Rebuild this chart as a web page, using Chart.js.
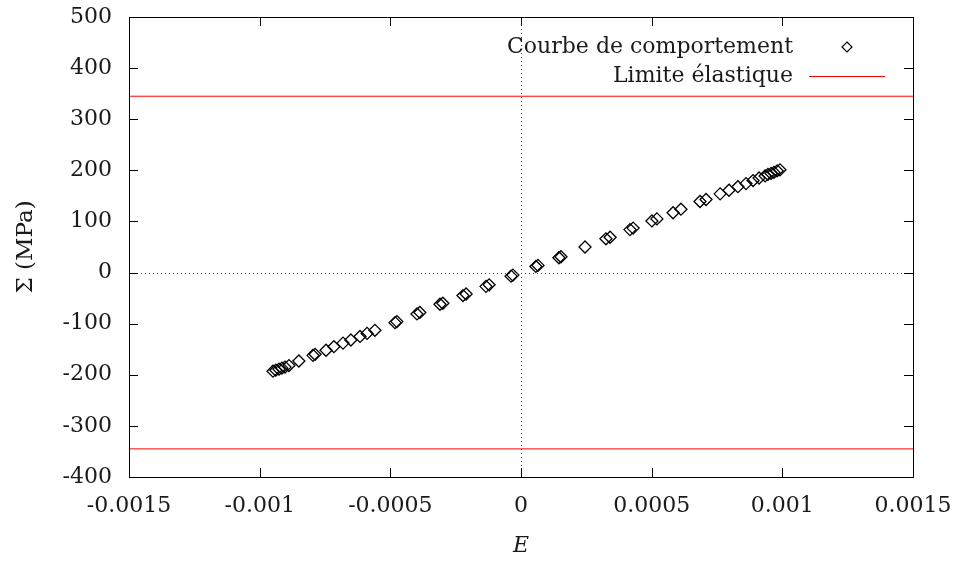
<!DOCTYPE html>
<html>
<head>
<meta charset="utf-8">
<script src="https://cdn.jsdelivr.net/npm/chart.js@4/dist/chart.umd.min.js"></script>
<style>
  html, body { margin: 0; padding: 0; background: #fff; }
  #wrap { width: 958px; height: 563px; }
</style>
</head>
<body>
<div id="wrap"><canvas id="c" width="958" height="563"></canvas></div>
<script>
// Loading curve: strain E and stress Sigma (MPa)
const strain = [
  -0.000949, -0.000938, -0.000926, -0.000915, -0.000903, -0.000888,
  -0.000850, -0.000796, -0.000788, -0.000746, -0.000716, -0.000681,
  -0.000651, -0.000616, -0.000589, -0.000559, -0.000482, -0.000475,
  -0.000398, -0.000387, -0.000310, -0.000299, -0.000222, -0.000210,
  -0.000134, -0.000122, -0.000038, -0.000031, 0.000057, 0.000065,
  0.000145, 0.000153, 0.000245, 0.000325, 0.000341, 0.000417,
  0.000429, 0.000501, 0.000520, 0.000582, 0.000612, 0.000685,
  0.000708, 0.000762, 0.000796, 0.000830, 0.000861, 0.000888,
  0.000911, 0.000934, 0.000945, 0.000957, 0.000968, 0.000980, 0.000991,
];
const stress = [
  -193, -191, -189, -187, -185, -182,
  -173, -162, -160, -152, -145, -138,
  -132, -125, -119, -113, -98, -96,
  -81, -78, -62, -60, -45, -42,
  -27, -24, -7, -5, 12, 14,
  29, 31, 50, 66, 69, 84,
  87, 101, 105, 117, 124, 139,
  143, 154, 161, 168, 174, 180,
  185, 189, 192, 194, 196, 199, 201,
];
const yieldStress = 345;
const xRange = [-0.0015, 0.0015];
const yRange = [-400, 500];
const labels = ["Courbe de comportement", "Limite élastique"];

const FONT = "'DejaVu Serif', serif";
const INK = "#1a1a1a";

// frame, inward ticks on all four sides, dotted zero axes, legend
const frame = {
  id: "frame",
  afterDatasetsDraw(chart) {
    const { ctx, chartArea: a, scales: { x, y } } = chart;
    ctx.save();
    // zero axes
    ctx.strokeStyle = "#444";
    ctx.lineWidth = 1;
    ctx.setLineDash([1, 3]);
    const x0 = Math.round(x.getPixelForValue(0)) + 0.5;
    const y0 = Math.round(y.getPixelForValue(0)) + 0.5;
    ctx.beginPath();
    ctx.moveTo(x0, a.top); ctx.lineTo(x0, a.bottom);
    ctx.moveTo(a.left, y0); ctx.lineTo(a.right, y0);
    ctx.stroke();
    ctx.setLineDash([]);
    // ticks
    ctx.strokeStyle = "#000";
    const tl = 9;
    ctx.beginPath();
    x.ticks.forEach((t) => {
      const px = Math.round(x.getPixelForValue(t.value)) + 0.5;
      ctx.moveTo(px, a.bottom); ctx.lineTo(px, a.bottom - tl);
      ctx.moveTo(px, a.top); ctx.lineTo(px, a.top + tl);
    });
    y.ticks.forEach((t) => {
      const py = Math.round(y.getPixelForValue(t.value)) + 0.5;
      ctx.moveTo(a.left, py); ctx.lineTo(a.left + tl, py);
      ctx.moveTo(a.right, py); ctx.lineTo(a.right - tl, py);
    });
    ctx.stroke();
    ctx.strokeRect(Math.round(a.left) + 0.5, Math.round(a.top) + 0.5,
                   Math.round(a.right - a.left), Math.round(a.bottom - a.top));
    // legend
    ctx.font = `22px ${FONT}`;
    ctx.fillStyle = INK;
    ctx.textAlign = "right";
    ctx.textBaseline = "middle";
    const tx = a.right - 120;
    ctx.fillText(labels[0], tx, a.top + 30);
    ctx.fillText(labels[1], tx, a.top + 59);
    const sx = a.right - 66;
    ctx.lineWidth = 1.2;
    ctx.beginPath();
    ctx.moveTo(sx, a.top + 30 - 5); ctx.lineTo(sx + 5, a.top + 30);
    ctx.lineTo(sx, a.top + 30 + 5); ctx.lineTo(sx - 5, a.top + 30);
    ctx.closePath();
    ctx.stroke();
    ctx.strokeStyle = "#ff0000";
    ctx.lineWidth = 1;
    ctx.beginPath();
    ctx.moveTo(a.right - 104, a.top + 59.5); ctx.lineTo(a.right - 28, a.top + 59.5);
    ctx.stroke();
    ctx.restore();
  },
};

const fmtTick = (v) => String(Number(v.toFixed(4)));

new Chart(document.getElementById("c"), {
  type: "scatter",
  data: {
    datasets: [
      {
        label: labels[0],
        data: strain.map((e, i) => ({ x: e, y: stress[i] })),
        pointStyle: "rectRot", pointRadius: 6, pointBorderWidth: 1.3,
        borderColor: "#000", backgroundColor: "rgba(0,0,0,0)",
      },
      {
        label: labels[1],
        data: [{ x: xRange[0], y: yieldStress }, { x: xRange[1], y: yieldStress }],
        showLine: true, pointRadius: 0, borderColor: "#ff0000", borderWidth: 1,
      },
      {
        label: labels[1] + " (compression)",
        data: [{ x: xRange[0], y: -yieldStress }, { x: xRange[1], y: -yieldStress }],
        showLine: true, pointRadius: 0, borderColor: "#ff0000", borderWidth: 1,
      },
    ],
  },
  options: {
    responsive: false, animation: false, devicePixelRatio: 1,
    layout: { padding: { top: 17, right: 45, left: 0, bottom: 0 } },
    plugins: { legend: { display: false }, tooltip: { enabled: false } },
    scales: {
      x: {
        type: "linear", min: xRange[0], max: xRange[1],
        afterFit: (s) => { s.height = 86; s.paddingLeft = 0; s.paddingRight = 0; },
        grid: { display: false, drawTicks: false }, border: { display: false },
        ticks: { stepSize: 0.0005, padding: 16, color: INK, font: { family: FONT, size: 22 }, callback: fmtTick, maxRotation: 0 },
        title: { display: true, text: "E", color: INK, padding: { top: 0, bottom: 4 }, font: { family: FONT, size: 22, style: "italic" } },
      },
      y: {
        type: "linear", min: yRange[0], max: yRange[1],
        afterFit: (s) => { s.width = 129; s.paddingTop = 0; s.paddingBottom = 0; },
        grid: { display: false, drawTicks: false }, border: { display: false },
        ticks: { stepSize: 100, padding: 17, color: INK, font: { family: FONT, size: 22 } },
        title: { display: true, text: "Σ (MPa)", color: INK, padding: { top: 12, bottom: 0 }, font: { family: FONT, size: 23 } },
      },
    },
  },
  plugins: [frame],
});
</script>
</body>
</html>
